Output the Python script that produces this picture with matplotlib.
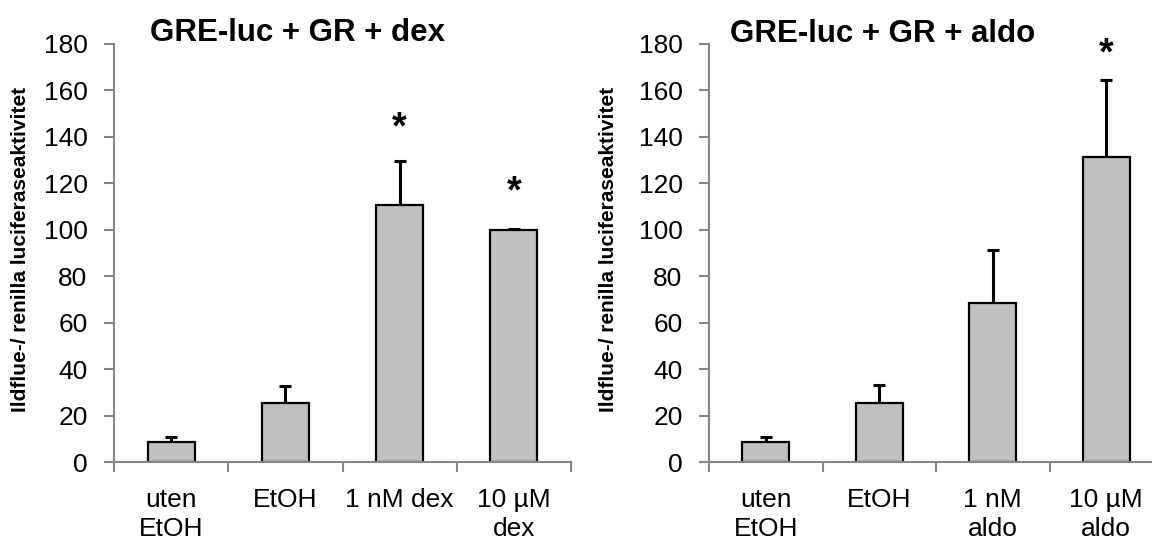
import matplotlib
matplotlib.use("Agg")
import matplotlib.pyplot as plt
import numpy as np

plt.rcParams["font.family"] = ["Liberation Sans", "DejaVu Sans"]

# Luciferase-aktivitet, gjennomsnitt og standardavvik (kun opp)
DEX_LABELS = ["uten\nEtOH", "EtOH", "1 nM dex", "10 µM\ndex"]
DEX_MEAN = [8.6, 25.3, 110.7, 100.0]
DEX_ERR = [2.3, 7.6, 18.9, 0.3]
DEX_STAR = [None, None, 143.5, 116.0]

ALDO_LABELS = ["uten\nEtOH", "EtOH", "1 nM\naldo", "10 µM\naldo"]
ALDO_MEAN = [8.5, 25.4, 68.5, 131.5]
ALDO_ERR = [2.4, 7.6, 23.0, 33.0]
ALDO_STAR = [None, None, None, 175.5]

YTICKS = list(range(0, 181, 20))
YLABEL = "Ildflue-/ renilla luciferaseaktivitet"
AXIS_GREY = "#868686"
BAR_GREY = "#C0C0C0"

W, H = 1152, 544


def draw_panel(ax, labels, mean, err, stars):
    x = np.arange(len(mean))
    mean = np.asarray(mean)
    top = mean + np.asarray(err)
    ax.bar(x, mean, width=0.41, color=BAR_GREY, edgecolor="black", linewidth=1.6, zorder=2)
    # bare øvre feilstolpe, med strek på toppen
    ax.vlines(x, mean, top, color="black", linewidth=2.2, zorder=3)
    ax.plot(x, top, ls="none", marker="_", markersize=9, markeredgewidth=2.2,
            color="black", zorder=3)
    for xi, s in zip(x, stars):
        if s is not None:
            ax.text(xi, s, "*", ha="center", va="center", fontsize=27, fontweight="bold")

    ax.set_xlim(-0.5, len(mean) - 0.5)
    ax.set_ylim(0, 180)
    ax.set_yticks(YTICKS)
    ax.set_xticks(x)
    ax.set_xticklabels(labels, linespacing=1.22)
    ax.set_xticks(np.arange(len(mean) + 1) - 0.5, minor=True)
    ax.tick_params(axis="x", which="major", length=0, pad=19, labelsize=19)
    ax.tick_params(axis="x", which="minor", length=7, width=1.5, color=AXIS_GREY)
    ax.tick_params(axis="y", length=7, width=1.5, color=AXIS_GREY, pad=12, labelsize=19)

    for side in ("top", "right"):
        ax.spines[side].set_visible(False)
    for side in ("left", "bottom"):
        ax.spines[side].set_color(AXIS_GREY)
        ax.spines[side].set_linewidth(1.5)
    ax.spines["bottom"].set_zorder(4)


fig = plt.figure(figsize=(W / 100, H / 100), dpi=100)

bottom = (H - 462) / H
height = 418 / H
ax1 = fig.add_axes([114 / W, bottom, 457 / W, height])
ax2 = fig.add_axes([709 / W, bottom, 454 / W, height])

draw_panel(ax1, DEX_LABELS, DEX_MEAN, DEX_ERR, DEX_STAR)
draw_panel(ax2, ALDO_LABELS, ALDO_MEAN, ALDO_ERR, ALDO_STAR)

fig.text(297 / W, 1 - 41 / H, "GRE-luc + GR + dex", ha="center", va="baseline",
         fontsize=22.5, fontweight="bold")
fig.text(883 / W, 1 - 42 / H, "GRE-luc + GR + aldo", ha="center", va="baseline",
         fontsize=22.5, fontweight="bold")

fig.text(21 / W, 1 - 249 / H, YLABEL, rotation=90, ha="center", va="center",
         fontsize=15, fontweight="bold")
fig.text(609 / W, 1 - 249 / H, YLABEL, rotation=90, ha="center", va="center",
         fontsize=15, fontweight="bold")

fig.savefig("out.png", dpi=100)
